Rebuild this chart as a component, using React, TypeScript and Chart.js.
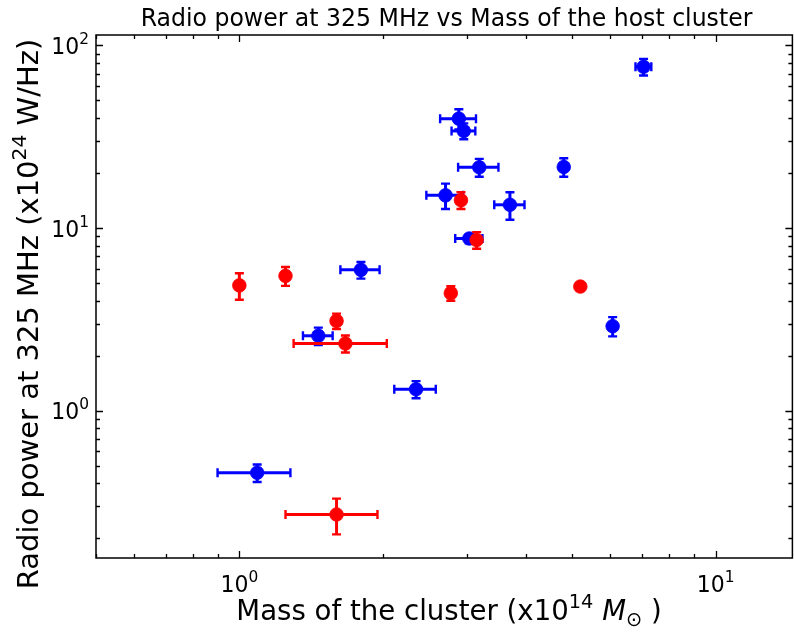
import React, { useEffect, useRef } from "react";
import { Chart, registerables } from "chart.js";

Chart.register(...registerables);

// ---- Data ----
const redMass = [1.0, 1.25, 1.6, 1.67, 1.6, 2.78, 2.92, 3.15, 5.2];
const redMassErr = [0, 0, 0, 0.37, 0.35, 0, 0, 0, 0];
const redPower = [4.85, 5.47, 3.1, 2.33, 0.27, 4.4, 14.2, 8.6, 4.78];
const redPowerErr = [0.8, 0.65, 0.3, 0.25, 0.06, 0.4, 1.5, 0.9, 0];

const blueMass = [1.09, 1.465, 1.8, 2.35, 2.89, 2.96, 3.19, 2.71, 3.7, 3.04, 4.8, 7.06, 6.08];
const blueMassErr = [0.19, 0.105, 0.17, 0.235, 0.25, 0.17, 0.31, 0.24, 0.27, 0.2, 0, 0.27, 0];
const bluePower = [0.457, 2.57, 5.9, 1.31, 39.7, 34.0, 21.5, 15.1, 13.4, 8.76, 21.6, 76.4, 2.9];
const bluePowerErr = [0.05, 0.28, 0.62, 0.14, 5, 3.4, 2.4, 2.4, 2.3, 0.5, 2.5, 8, 0.35];

const xTickValues = [1, 10];
const xTickExponents = ["0", "1"];
const yTickValues = [1, 10, 100];
const yTickExponents = ["0", "1", "2"];

const titleText = "Radio power at 325 MHz vs Mass of the host cluster";

const FONT = "'DejaVu Sans', sans-serif";
const RED = "#ff0000";
const BLUE = "#0000ff";
const STRETCH = 1.05;

type Run = { t: string; s?: number; dy?: number; it?: boolean };

function drawRich(
  ctx: CanvasRenderingContext2D,
  runs: Run[],
  x: number,
  y: number,
  size: number,
  align: "left" | "center" | "right",
  kx = 1,
  ky = 1
) {
  const fontFor = (r: Run) => `${r.it ? "italic " : ""}${size * (r.s ?? 1)}px ${FONT}`;
  const widths: number[] = [];
  let total = 0;
  for (const r of runs) {
    ctx.font = fontFor(r);
    const w = ctx.measureText(r.t).width;
    widths.push(w);
    total += w;
  }
  ctx.save();
  ctx.translate(x, y);
  ctx.scale(kx, ky);
  let cx = align === "left" ? 0 : align === "center" ? -total / 2 : -total;
  ctx.textAlign = "left";
  ctx.textBaseline = "alphabetic";
  runs.forEach((r, i) => {
    ctx.font = fontFor(r);
    ctx.fillText(r.t, cx, (r.dy ?? 0) * size);
    cx += widths[i];
  });
  ctx.restore();
}

const errorBars = {
  red: { mass: redMass, massErr: redMassErr, power: redPower, powerErr: redPowerErr, color: RED },
  blue: { mass: blueMass, massErr: blueMassErr, power: bluePower, powerErr: bluePowerErr, color: BLUE },
};

const errorBarPlugin = {
  id: "errorBars",
  beforeDatasetDraw(chart: any, args: any) {
    const ds = chart.data.datasets[args.index];
    const eb = (errorBars as any)[ds.key];
    if (!eb) return;
    const ctx: CanvasRenderingContext2D = chart.ctx;
    const xs = chart.scales.x;
    const ys = chart.scales.y;
    const cap = 4.5;
    ctx.save();
    ctx.strokeStyle = eb.color;
    ctx.lineCap = "butt";
    for (let i = 0; i < eb.mass.length; i++) {
      const m = eb.mass[i];
      const p = eb.power[i];
      const px = xs.getPixelForValue(m);
      const py = ys.getPixelForValue(p);
      if (eb.massErr[i] > 0) {
        const x1 = xs.getPixelForValue(m - eb.massErr[i]);
        const x2 = xs.getPixelForValue(m + eb.massErr[i]);
        ctx.lineWidth = 3;
        ctx.beginPath();
        ctx.moveTo(x1, py);
        ctx.lineTo(x2, py);
        ctx.stroke();
        ctx.lineWidth = 2.4;
        ctx.beginPath();
        ctx.moveTo(x1, py - cap);
        ctx.lineTo(x1, py + cap);
        ctx.moveTo(x2, py - cap);
        ctx.lineTo(x2, py + cap);
        ctx.stroke();
      }
      if (eb.powerErr[i] > 0) {
        const y1 = ys.getPixelForValue(p - eb.powerErr[i]);
        const y2 = ys.getPixelForValue(p + eb.powerErr[i]);
        ctx.lineWidth = 3;
        ctx.beginPath();
        ctx.moveTo(px, y1);
        ctx.lineTo(px, y2);
        ctx.stroke();
        ctx.lineWidth = 2.4;
        ctx.beginPath();
        ctx.moveTo(px - cap, y1);
        ctx.lineTo(px + cap, y1);
        ctx.moveTo(px - cap, y2);
        ctx.lineTo(px + cap, y2);
        ctx.stroke();
      }
    }
    ctx.restore();
  },
};

function minorValues(min: number, max: number, majors: number[]) {
  const out: number[] = [];
  for (let e = -2; e <= 3; e++) {
    const d = Math.pow(10, e);
    for (let k = 2; k <= 9; k++) {
      const v = d * k;
      if (v >= min && v <= max && !majors.includes(v)) out.push(v);
    }
  }
  return out;
}

const framePlugin = {
  id: "frame",
  afterDraw(chart: any) {
    const ctx: CanvasRenderingContext2D = chart.ctx;
    const { left, right, top, bottom } = chart.chartArea;
    const xs = chart.scales.x;
    const ys = chart.scales.y;
    ctx.save();
    ctx.strokeStyle = "#000";
    ctx.fillStyle = "#000";

    // ticks (inward, all four sides)
    const majorLen = 7;
    const minorLen = 4;
    ctx.lineWidth = 1.3;
    ctx.beginPath();
    for (const v of xTickValues) {
      if (v < xs.min || v > xs.max) continue;
      const px = Math.round(xs.getPixelForValue(v)) + 0.5;
      ctx.moveTo(px, bottom);
      ctx.lineTo(px, bottom - majorLen);
      ctx.moveTo(px, top);
      ctx.lineTo(px, top + majorLen);
    }
    for (const v of minorValues(xs.min, xs.max, xTickValues)) {
      const px = Math.round(xs.getPixelForValue(v)) + 0.5;
      ctx.moveTo(px, bottom);
      ctx.lineTo(px, bottom - minorLen);
      ctx.moveTo(px, top);
      ctx.lineTo(px, top + minorLen);
    }
    for (const v of yTickValues) {
      if (v < ys.min || v > ys.max) continue;
      const py = Math.round(ys.getPixelForValue(v)) + 0.5;
      ctx.moveTo(left, py);
      ctx.lineTo(left + majorLen, py);
      ctx.moveTo(right, py);
      ctx.lineTo(right - majorLen, py);
    }
    for (const v of minorValues(ys.min, ys.max, yTickValues)) {
      const py = Math.round(ys.getPixelForValue(v)) + 0.5;
      ctx.moveTo(left, py);
      ctx.lineTo(left + minorLen, py);
      ctx.moveTo(right, py);
      ctx.lineTo(right - minorLen, py);
    }
    ctx.stroke();

    // spines
    ctx.lineWidth = 1.5;
    ctx.strokeRect(left, top, right - left, bottom - top);

    // tick labels
    const tickSize = 22;
    xTickValues.forEach((v, i) => {
      const px = xs.getPixelForValue(v);
      drawRich(
        ctx,
        [{ t: "10" }, { t: xTickExponents[i], s: 0.7, dy: -0.42 }],
        px,
        bottom + 34,
        tickSize,
        "center",
        1,
        STRETCH
      );
    });
    yTickValues.forEach((v, i) => {
      const py = ys.getPixelForValue(v);
      drawRich(
        ctx,
        [{ t: "10" }, { t: yTickExponents[i], s: 0.7, dy: -0.42 }],
        left - 7,
        py + 8.5,
        tickSize,
        "right",
        1,
        STRETCH
      );
    });

    // title
    drawRich(ctx, [{ t: titleText }], 446.5, 26, 23.6, "center", 1, STRETCH);

    // x label
    drawRich(
      ctx,
      [
        { t: "Mass of the cluster (x10" },
        { t: "14", s: 0.7, dy: -0.42 },
        { t: " " },
        { t: "M", it: true },
        { t: "\u2299", s: 0.7, dy: 0.22 },
        { t: " )" },
      ],
      449,
      620,
      27.6,
      "center",
      1,
      STRETCH
    );

    // y label
    ctx.save();
    ctx.translate(38, 314);
    ctx.rotate(-Math.PI / 2);
    drawRich(
      ctx,
      [
        { t: "Radio power at 325 MHz (x10" },
        { t: "24", s: 0.7, dy: -0.42 },
        { t: " W/Hz)" },
      ],
      0,
      0,
      27.6,
      "center",
      STRETCH,
      1
    );
    ctx.restore();

    ctx.restore();
  },
};

export default function App() {
  const canvasRef = useRef<HTMLCanvasElement | null>(null);

  useEffect(() => {
    const canvas = canvasRef.current;
    if (!canvas) return;
    const chart = new Chart(canvas, {
      type: "scatter",
      data: {
        datasets: [
          {
            key: "red",
            data: redMass.map((m, i) => ({ x: m, y: redPower[i] })),
            backgroundColor: RED,
            borderColor: RED,
            pointRadius: 6.8,
            pointBorderWidth: 0.8,
            pointHoverRadius: 6.8,
          } as any,
          {
            key: "blue",
            data: blueMass.map((m, i) => ({ x: m, y: bluePower[i] })),
            backgroundColor: BLUE,
            borderColor: BLUE,
            pointRadius: 6.8,
            pointBorderWidth: 0.8,
            pointHoverRadius: 6.8,
          } as any,
        ],
      },
      options: {
        animation: false,
        responsive: false,
        devicePixelRatio: 1,
        events: [],
        layout: { padding: { left: 96, top: 35, right: 4, bottom: 76 } },
        plugins: {
          legend: { display: false },
          tooltip: { enabled: false },
          title: { display: false },
        },
        scales: {
          x: { type: "logarithmic", min: 0.5, max: 14.5, display: false },
          y: { type: "logarithmic", min: 0.156, max: 114, display: false },
        },
      },
      plugins: [errorBarPlugin, framePlugin],
    });
    return () => chart.destroy();
  }, []);

  return (
    <div
      style={{
        position: "absolute",
        left: 0,
        top: 0,
        width: 794,
        height: 634,
        overflow: "hidden",
        background: "#fff",
      }}
    >
      <canvas ref={canvasRef} width={800} height={634} style={{ display: "block", width: 800, height: 634 }} />
    </div>
  );
}
